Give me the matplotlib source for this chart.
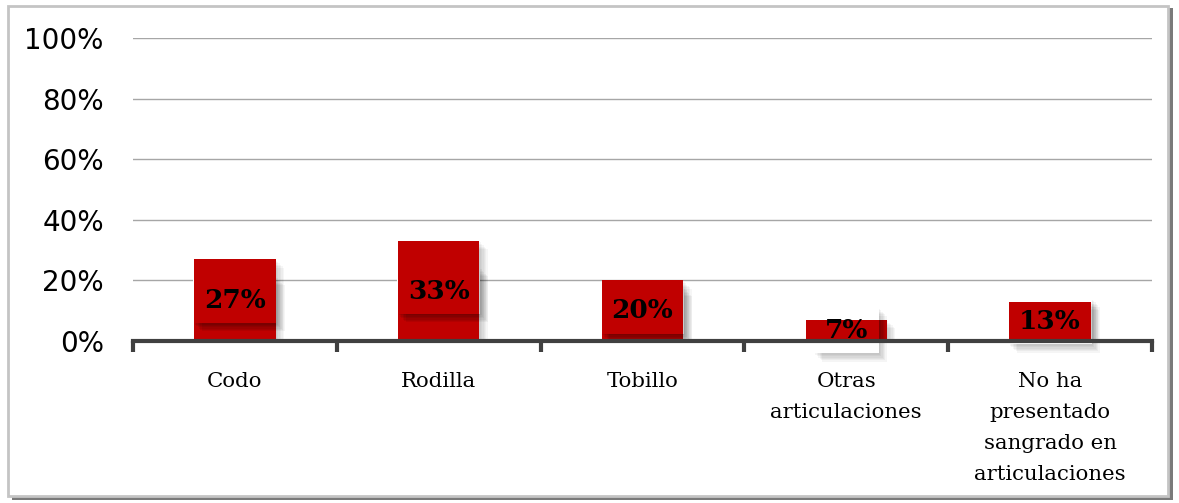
import numpy as np
import matplotlib.pyplot as plt
from matplotlib.patches import Rectangle
import matplotlib.patheffects as pe

categorias = ["Codo", "Rodilla", "Tobillo", "Otras\narticulaciones",
              "No ha\npresentado\nsangrado en\narticulaciones"]
porcentajes = [27, 33, 20, 7, 13]
etiquetas = ["27%", "33%", "20%", "7%", "13%"]
yticks = [0, 20, 40, 60, 80, 100]

rojo = "#C00000"

fig = plt.figure(figsize=(11.79, 5.03), dpi=100)

# marco exterior con sombra
fig.patches.append(Rectangle((12 / 1179, 3 / 503), 1161 / 1179, 492 / 503,
                             transform=fig.transFigure, facecolor="#7a7a7a",
                             edgecolor="none", zorder=-2))
fig.patches.append(Rectangle((8 / 1179, 7 / 503), 1160 / 1179, 490 / 503,
                             transform=fig.transFigure, facecolor="white",
                             edgecolor="#c4c4c4", linewidth=2, zorder=-1))

ax = fig.add_axes([133 / 1179, (503 - 341) / 503, (1152 - 133) / 1179, (341 - 38) / 503])
ax.set_facecolor("none")

x = np.arange(len(categorias))


def sombra_suave(alfa=0.05):
    # varias sombras desplazadas para simular un difuminado
    capas = [pe.SimplePatchShadow(offset=(d, -d), shadow_rgbFace="black", alpha=alfa)
             for d in (1, 2, 3, 4, 5, 6)]
    return capas + [pe.Normal()]


barras = ax.bar(x, porcentajes, width=0.4, color=rojo, zorder=3)
for b in barras:
    b.set_path_effects(sombra_suave(0.035))

for b, v, t in zip(barras, porcentajes, etiquetas):
    # caja blanca detrás de la barra
    fondo = ax.text(b.get_x() + b.get_width() / 2, v / 2, t, ha="center", va="center",
                    fontsize=19, fontweight="bold", family="DejaVu Serif", color="none",
                    zorder=2, clip_on=False,
                    bbox=dict(boxstyle="square,pad=0.4", facecolor="white", edgecolor="none"))
    fondo.get_bbox_patch().set_path_effects(sombra_suave(0.04))
    # caja roja recortada a la barra
    txt = ax.text(b.get_x() + b.get_width() / 2, v / 2, t, ha="center", va="center",
                  fontsize=19, fontweight="bold", family="DejaVu Serif", color="black",
                  zorder=5, clip_on=False,
                  bbox=dict(boxstyle="square,pad=0.4", facecolor=rojo, edgecolor="none"))
    caja = txt.get_bbox_patch()
    caja.set_path_effects(sombra_suave(0.07))
    caja.set_clip_path(b)
    caja.set_clip_on(True)

ax.set_xlim(-0.5, len(categorias) - 0.5)
ax.set_ylim(0, 100)
ax.set_yticks(yticks)
ax.set_yticklabels([f"{v}%" for v in yticks], fontsize=20, family="DejaVu Sans")
ax.yaxis.grid(True, color="#a6a6a6", linewidth=1, zorder=0)
ax.tick_params(axis="y", length=0, pad=21)

ax.set_xticks(x)
ax.set_xticklabels(categorias, fontsize=15.3, family="DejaVu Serif", linespacing=1.8, va="top")
ax.tick_params(axis="x", length=0, pad=22)
ax.set_xticks(np.arange(-0.5, len(categorias)), minor=True)
ax.tick_params(axis="x", which="minor", length=8, width=3, color="#404040", direction="out")

for s in ["left", "right", "top"]:
    ax.spines[s].set_visible(False)
ax.spines["bottom"].set_color("#404040")
ax.spines["bottom"].set_linewidth(3)
ax.spines["bottom"].set_zorder(6)

fig.savefig("out.png", dpi=100)
